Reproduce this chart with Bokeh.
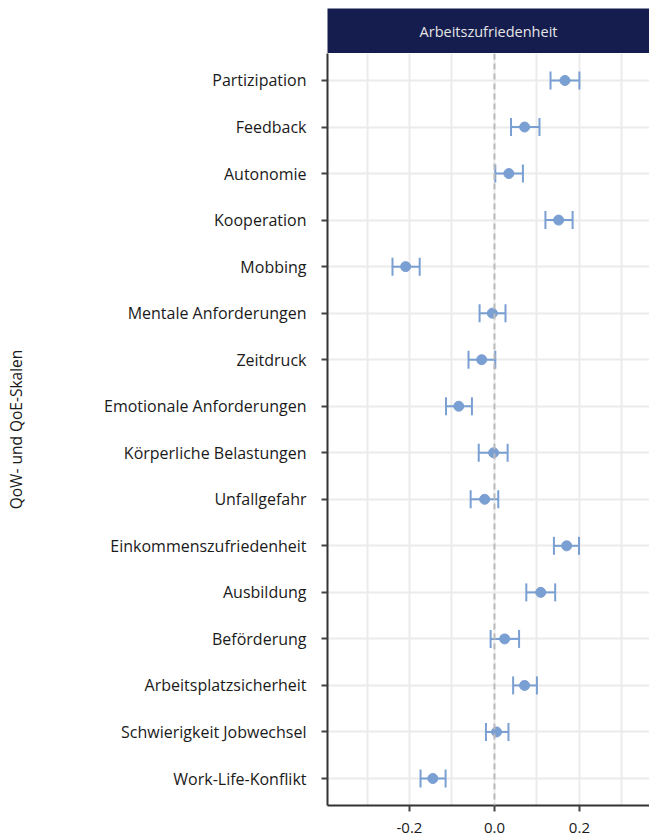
from bokeh.plotting import figure
from bokeh.models import (ColumnDataSource, FactorRange, Range1d, FixedTicker, Span,
                          Whisker, TeeHead, Label)
from bokeh.layouts import column
from bokeh.embed import file_html
from bokeh.resources import INLINE

categories = ["Partizipation", "Feedback", "Autonomie", "Kooperation", "Mobbing",
              "Mentale Anforderungen", "Zeitdruck", "Emotionale Anforderungen",
              "Körperliche Belastungen", "Unfallgefahr", "Einkommenszufriedenheit",
              "Ausbildung", "Beförderung", "Arbeitsplatzsicherheit",
              "Schwierigkeit Jobwechsel", "Work-Life-Konflikt"]
estimate = [0.166, 0.071, 0.034, 0.151, -0.209, -0.005, -0.030, -0.084,
            -0.002, -0.023, 0.170, 0.109, 0.024, 0.071, 0.005, -0.145]
lower = [0.132, 0.039, 0.002, 0.120, -0.240, -0.035, -0.061, -0.114,
         -0.037, -0.056, 0.140, 0.075, -0.009, 0.044, -0.020, -0.174]
upper = [0.200, 0.106, 0.067, 0.184, -0.176, 0.026, 0.002, -0.053,
         0.031, 0.009, 0.199, 0.143, 0.058, 0.100, 0.033, -0.115]
panel_title = "Arbeitszufriedenheit"
y_title = "QoW- und QoE-Skalen"
x_ticks = [-0.2, 0.0, 0.2]
x_tick_labels = ["-0.2", "0.0", "0.2"]
x_minor = [-0.3, -0.1, 0.1, 0.3]

FONT = "Open Sans"
POINT = "#7a9fd2"
GRID = "#ebebeb"
NAVY = "#151c4e"
LEFT = 327

src = ColumnDataSource(dict(cat=categories, est=estimate, lo=lower, hi=upper))

xr = Range1d(-0.393, 0.365)

# header strip
h = figure(width=649, height=53, x_range=xr, output_backend="svg",
           toolbar_location=None, min_border_left=LEFT, min_border_right=0,
           min_border_top=8, min_border_bottom=0)
h.background_fill_color = NAVY
h.border_fill_color = "white"
h.outline_line_color = None
h.xaxis.visible = False
h.yaxis.visible = False
h.grid.visible = False
h.add_layout(Label(x=161, y=22, x_units="screen", y_units="screen", text=panel_title,
                   text_align="center", text_baseline="middle", text_font=FONT,
                   text_font_size="14.5px", text_color="#e6e6e6"))

p = figure(width=649, height=785, x_range=xr,
           y_range=FactorRange(factors=categories[::-1], range_padding=0.08,
                               range_padding_units="absolute"),
           output_backend="svg", toolbar_location=None,
           min_border_left=LEFT, min_border_right=0, min_border_top=0, min_border_bottom=33)
p.outline_line_color = None
p.background_fill_color = "white"

p.xgrid.ticker = FixedTicker(ticks=x_ticks, minor_ticks=x_minor)
p.xaxis.ticker = FixedTicker(ticks=x_ticks, minor_ticks=x_minor)
p.xaxis.major_label_overrides = dict(zip(x_ticks, x_tick_labels))
p.xgrid.grid_line_color = GRID
p.xgrid.grid_line_width = 2
p.xgrid.minor_grid_line_color = GRID
p.xgrid.minor_grid_line_width = 2
p.ygrid.grid_line_color = GRID
p.ygrid.grid_line_width = 2

for ax in (p.xaxis[0], p.yaxis[0]):
    ax.axis_line_color = "#333333"
    ax.axis_line_width = 2
    ax.major_tick_line_color = "#444444"
    ax.major_tick_line_width = 2
    ax.major_tick_out = 6
    ax.major_tick_in = 0
    ax.minor_tick_line_color = None
    ax.major_label_text_font = FONT
    ax.major_label_text_color = "#1a1a1a"
    ax.axis_label_text_font = FONT
    ax.axis_label_text_font_style = "normal"
    ax.axis_label_text_color = "#1a1a1a"

p.xaxis.major_label_text_font_size = "15px"
p.xaxis.major_label_standoff = 11
p.yaxis.major_label_text_font_size = "16px"
p.yaxis.major_label_standoff = 15
p.yaxis.axis_label = y_title
p.yaxis.axis_label_text_font_size = "15.5px"
p.yaxis.axis_label_standoff = 74

p.add_layout(Span(location=0, dimension="height", line_color="#bbbbbb",
                  line_width=2, line_dash="6 4"))

p.add_layout(Whisker(source=src, base="cat", lower="lo", upper="hi", dimension="width",
                     line_color=POINT, line_width=2,
                     lower_head=TeeHead(size=18, line_color=POINT, line_width=2),
                     upper_head=TeeHead(size=18, line_color=POINT, line_width=2)))
p.scatter(x="est", y="cat", source=src, size=10, color=POINT)

layout = column(h, p, spacing=0)
open("out.html", "w").write(file_html(layout, INLINE))
